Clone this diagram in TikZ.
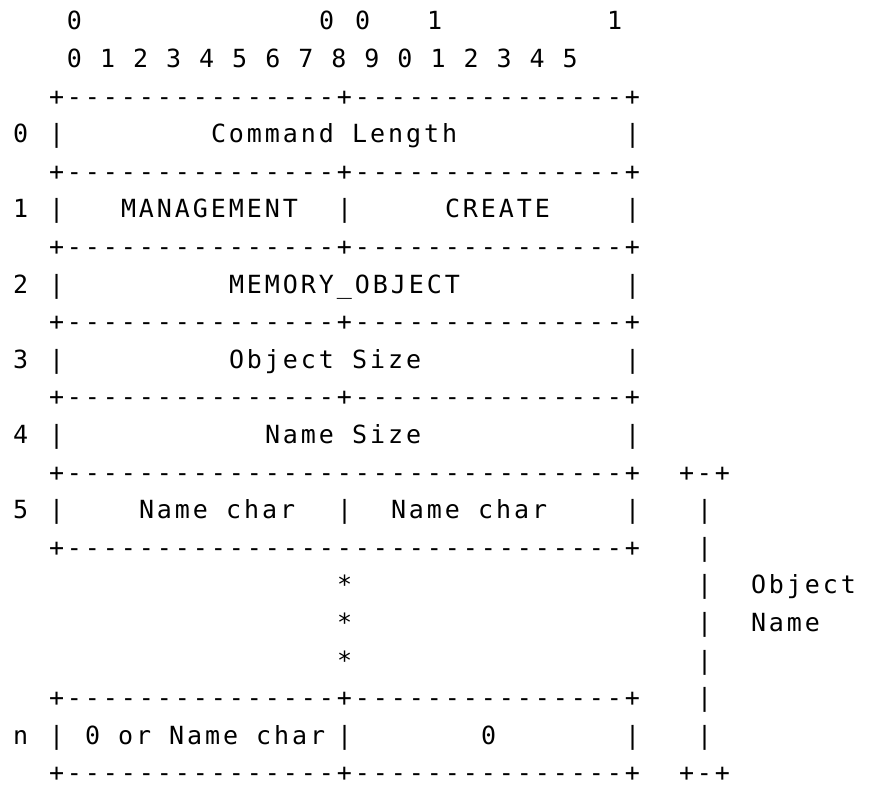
\documentclass[tikz,border=0pt]{standalone}
\usepackage{fontspec}
\setmonofont{DejaVu Sans Mono}[LetterSpace=11.8]
\usepackage{tikz}

% one character cell = 9pt wide
\newcommand{\asciifont}{\fontsize{12.5pt}{15pt}\ttfamily
  \fontdimen2\font=9pt\fontdimen3\font=0pt\fontdimen4\font=0pt\fontdimen7\font=0pt}

\tikzset{
  ascii/.style={anchor=base west, inner sep=0pt, outer sep=0pt, font=\asciifont},
}

\begin{document}
\begin{tikzpicture}[x=9pt, y=-18.8pt]
    % page
    \path[fill=white, use as bounding box] (0pt,0pt) rectangle (434.5pt,-393pt);

    \begin{scope}[shift={(6.5pt,3.8pt)}]
    % bit ruler
    \node[ascii] (msb0) at (3,1) {0};
    \node[ascii] (msb7) at (17,1) {0};
    \node[ascii] (msb8) at (19,1) {0};
    \node[ascii] (msb10) at (23,1) {1};
    \node[ascii] (msb15) at (33,1) {1};
    \node[ascii] (ruler) at (3,2) {0 1 2 3 4 5 6 7 8 9 0 1 2 3 4 5};

    % separators
    \foreach \r in {3,5,7,9,11,19,21}
        \node[ascii] (sep\r) at (2,\r) {+---------------+---------------+};
    \foreach \r in {13,15}
        \node[ascii] (sep\r) at (2,\r) {+-------------------------------+};

    % row numbers and walls
    \foreach \r/\n in {4/0,6/1,8/2,10/3,12/4,14/5,20/n} {
        \node[ascii] (idx\r) at (0,\r) {\n};
        \node[ascii] (wl\r) at (2,\r) {|};
        \node[ascii] (wr\r) at (34,\r) {|};
    }
    \foreach \r in {6,14,20}
        \node[ascii] (wm\r) at (18,\r) {|};

    % fields
    \node[ascii] (cmdlen) at (11,4) {Command Length};
    \node[ascii] (mgmt) at (6,6) {MANAGEMENT};
    \node[ascii] (create) at (24,6) {CREATE};
    \node[ascii] (memobj) at (12,8) {MEMORY\_OBJECT};
    \node[ascii] (objsize) at (12,10) {Object Size};
    \node[ascii] (namesize) at (14,12) {Name Size};
    \node[ascii] (char1) at (7,14) {Name char};
    \node[ascii] (char2) at (21,14) {Name char};
    \node[ascii] (charn) at (4,20) {0 or Name char};
    \node[ascii] (nul) at (26,20) {0};

    % continuation
    \foreach \r in {16,17,18}
        \node[ascii] (dot\r) at (18,\r) {*};

    % object name bracket
    \node[ascii] (brtop) at (37,13) {+-+};
    \node[ascii] (brbot) at (37,21) {+-+};
    \foreach \r in {14,...,20}
        \node[ascii] (br\r) at (38,\r) {|};
    \node[ascii] (objlbl) at (41,16) {Object};
    \node[ascii] (namelbl) at (41,17) {Name};
    \end{scope}
\end{tikzpicture}
\end{document}
